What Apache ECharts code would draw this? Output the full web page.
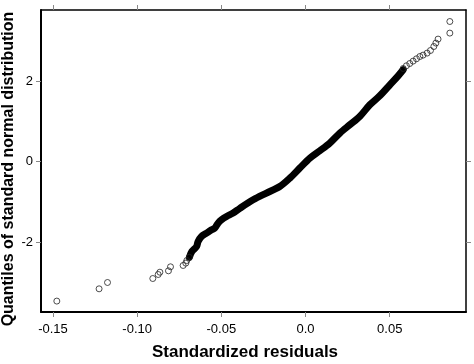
<!DOCTYPE html>
<html><head><meta charset="utf-8">
<script src="https://cdn.jsdelivr.net/npm/echarts@6/dist/echarts.min.js"></script>
<style>html,body{margin:0;padding:0;background:#fff}#c{width:474px;height:364px}</style>
</head><body><div id="c"></div>
<script>
// Tick values and labels
var xTickValues = [-0.15, -0.10, -0.05, 0, 0.05];
var xTickLabels = ["-0.15", "-0.10", "-0.05", "0.0", "0.05"];
var yTickValues = [-2, 0, 2];
var yTickLabels = ["-2", "0", "2"];
var xTitle = "Standardized residuals";
var yTitle = "Quantiles of standard normal distribution";

// Sparse tail points [residual, normal quantile]
var lowerTail = [
  [-0.1477, -3.468], [-0.1226, -3.163], [-0.1176, -3.006],
  [-0.0907, -2.907], [-0.0875, -2.807], [-0.0865, -2.750],
  [-0.0814, -2.716], [-0.0802, -2.616], [-0.0727, -2.583],
  [-0.0711, -2.525], [-0.0705, -2.460], [-0.0690, -2.380]
];
var upperTail = [
  [0.0580, 2.311], [0.0599, 2.378], [0.0619, 2.435], [0.0639, 2.494],
  [0.0659, 2.552], [0.0679, 2.609], [0.0698, 2.643], [0.0722, 2.693],
  [0.0742, 2.758], [0.0762, 2.857], [0.0774, 2.942], [0.0787, 3.041],
  [0.0857, 3.190], [0.0857, 3.478]
];
// Dense central band (points overlap into a solid stroke)
var bandPoints = [
  [-0.0690, -2.380], [-0.0675, -2.236], [-0.0647, -2.112], [-0.0638, -1.988],
  [-0.0618, -1.863], [-0.0588, -1.779], [-0.0558, -1.697], [-0.0539, -1.655],
  [-0.0519, -1.530], [-0.0499, -1.448], [-0.0469, -1.366], [-0.0430, -1.282],
  [-0.0390, -1.163], [-0.0311, -0.952], [-0.0232, -0.785], [-0.0153, -0.621],
  [-0.0093, -0.412], [-0.0034, -0.164], [0.0026, 0.084], [0.0085, 0.266],
  [0.0144, 0.457], [0.0204, 0.706], [0.0263, 0.912], [0.0322, 1.118],
  [0.0382, 1.409], [0.0441, 1.632], [0.0501, 1.906], [0.0550, 2.129],
  [0.0580, 2.280]
];

var FONT = '"Liberation Sans", Arial, sans-serif';
function lab(vals, labels) {
  return function (v) {
    for (var i = 0; i < vals.length; i++) if (Math.abs(vals[i] - v) < 1e-9) return labels[i];
    return '';
  };
}
var chart = echarts.init(document.getElementById('c'), null, {renderer: 'canvas'});
var tickStyle = {show: true, inside: false, length: 5, lineStyle: {color: '#888', width: 1}};
chart.setOption({
  animation: false,
  grid: {left: 41, right: 8, top: 10, bottom: 52, containLabel: false},
  xAxis: [{
    type: 'value', min: -0.1571, max: 0.0953, position: 'bottom',
    axisLine: {show: true, onZero: false, lineStyle: {color: '#000', width: 2}},
    axisTick: Object.assign({customValues: xTickValues}, tickStyle),
    axisLabel: {customValues: xTickValues, formatter: lab(xTickValues, xTickLabels), margin: 11, fontSize: 13, color: '#000', fontFamily: FONT},
    splitLine: {show: false}
  }, {
    type: 'value', min: -0.1571, max: 0.0953, position: 'top',
    axisLine: {show: true, onZero: false, lineStyle: {color: '#000', width: 1.5}},
    axisTick: Object.assign({customValues: xTickValues}, tickStyle),
    axisLabel: {show: false},
    splitLine: {show: false}
  }],
  yAxis: [{
    type: 'value', min: -3.739, max: 3.764, position: 'left',
    axisLine: {show: true, onZero: false, lineStyle: {color: '#000', width: 2}},
    axisTick: Object.assign({customValues: yTickValues}, tickStyle),
    axisLabel: {customValues: yTickValues, formatter: lab(yTickValues, yTickLabels), margin: 8, fontSize: 13, color: '#000', fontFamily: FONT},
    splitLine: {show: false}
  }, {
    type: 'value', min: -3.739, max: 3.764, position: 'right',
    axisLine: {show: true, onZero: false, lineStyle: {color: '#000', width: 1.5}},
    axisTick: Object.assign({customValues: yTickValues}, tickStyle),
    axisLabel: {show: false},
    splitLine: {show: false}
  }],
  series: [{
    type: 'line', data: bandPoints, showSymbol: false, smooth: 0.3,
    lineStyle: {color: '#000', width: 7, cap: 'round', join: 'round'},
    z: 2
  }, {
    type: 'scatter', data: lowerTail.concat(upperTail), symbol: 'circle', symbolSize: 6,
    itemStyle: {color: 'rgba(255,255,255,0)', borderColor: '#222', borderWidth: 1},
    z: 3
  }],
  graphic: [{
    type: 'text', x: 245, y: 352,
    style: {text: xTitle, font: 'bold 17px ' + FONT, fill: '#000', align: 'center', verticalAlign: 'middle'}
  }, {
    type: 'text', rotation: Math.PI / 2, x: 9, y: 169,
    style: {text: yTitle, font: 'bold 16px ' + FONT, fill: '#000', align: 'center', verticalAlign: 'middle'}
  }]
});
</script></body></html>
